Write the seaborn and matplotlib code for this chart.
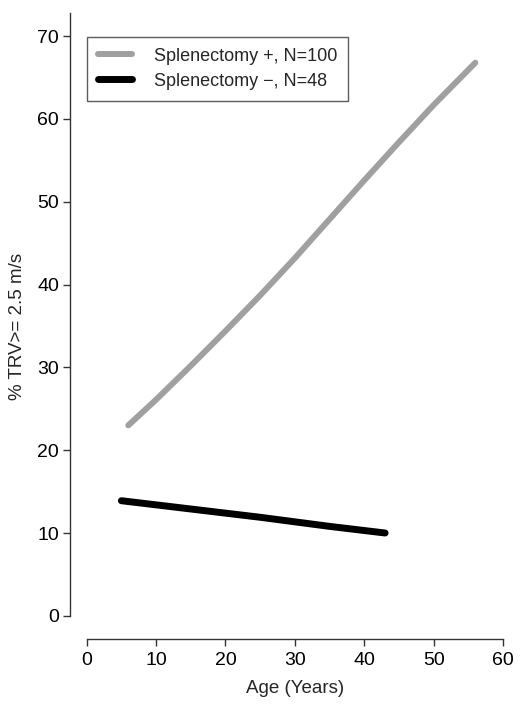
"""
plot.py

recreates the TRV by age chart for splenectomy groups
"""

import matplotlib
matplotlib.use("Agg")
import matplotlib.pyplot as plt
import pandas as pd
import seaborn as sns

# grey curve: splenectomy +
age_plus = [6, 10, 15, 20, 25, 30, 35, 40, 45, 50, 56]
trv_plus = [23.0, 26.1, 30.2, 34.4, 38.7, 43.2, 47.9, 52.6, 57.2, 61.7, 66.8]

# black curve: splenectomy -
age_minus = [5, 15, 25, 35, 43]
trv_minus = [13.9, 12.9, 11.9, 10.8, 10.0]

labels = ["Splenectomy +, N=100", "Splenectomy \u2212, N=48"]
x_ticks = [0, 10, 20, 30, 40, 50, 60]
y_ticks = [0, 10, 20, 30, 40, 50, 60, 70]

sns.set_style("ticks")
plt.rcParams["font.family"] = ["Liberation Sans", "DejaVu Sans"]

fig = plt.figure(figsize=(5.2, 7.06), dpi=100)
ax = fig.add_axes([0.1346, 0.0949, 0.865, 0.8867])

df_plus = pd.DataFrame({"age": age_plus, "trv": trv_plus})
df_minus = pd.DataFrame({"age": age_minus, "trv": trv_minus})

sns.lineplot(data=df_plus, x="age", y="trv", ax=ax, color="#a0a0a0",
             linewidth=4.3, solid_capstyle="round", label=labels[0])
sns.lineplot(data=df_minus, x="age", y="trv", ax=ax, color="black",
             linewidth=5.0, solid_capstyle="round", label=labels[1])

# R-style axes: 4% padding, detached x axis
ax.set_xlim(-2.4, 62.4)
ax.set_ylim(-2.8, 72.8)
ax.set_xticks(x_ticks)
ax.set_yticks(y_ticks)
ax.spines["right"].set_visible(False)
ax.spines["top"].set_visible(False)
ax.spines["bottom"].set_bounds(0, 60)
ax.spines["left"].set_bounds(0, 72.8)
for s in ("left", "bottom"):
    ax.spines[s].set_color("#333333")
    ax.spines[s].set_linewidth(1.0)
ax.tick_params(axis="both", direction="out", length=5, width=1.0,
               color="#333333", labelsize=14, labelcolor="black")
ax.tick_params(axis="y", pad=3)
ax.tick_params(axis="x", pad=4)

ax.set_xlabel("Age (Years)", fontsize=13.5, labelpad=8)
ax.set_ylabel("% TRV>= 2.5 m/s", fontsize=13.5, labelpad=8)

leg = ax.legend(loc="upper left", bbox_to_anchor=(0.038, 0.962),
                borderaxespad=0, frameon=True, fancybox=False,
                fontsize=13, handlelength=1.9, handletextpad=1.2,
                borderpad=0.6, labelspacing=0.45)
leg.get_frame().set_edgecolor("#333333")
leg.get_frame().set_linewidth(1.0)

fig.savefig("out.png", dpi=100)
